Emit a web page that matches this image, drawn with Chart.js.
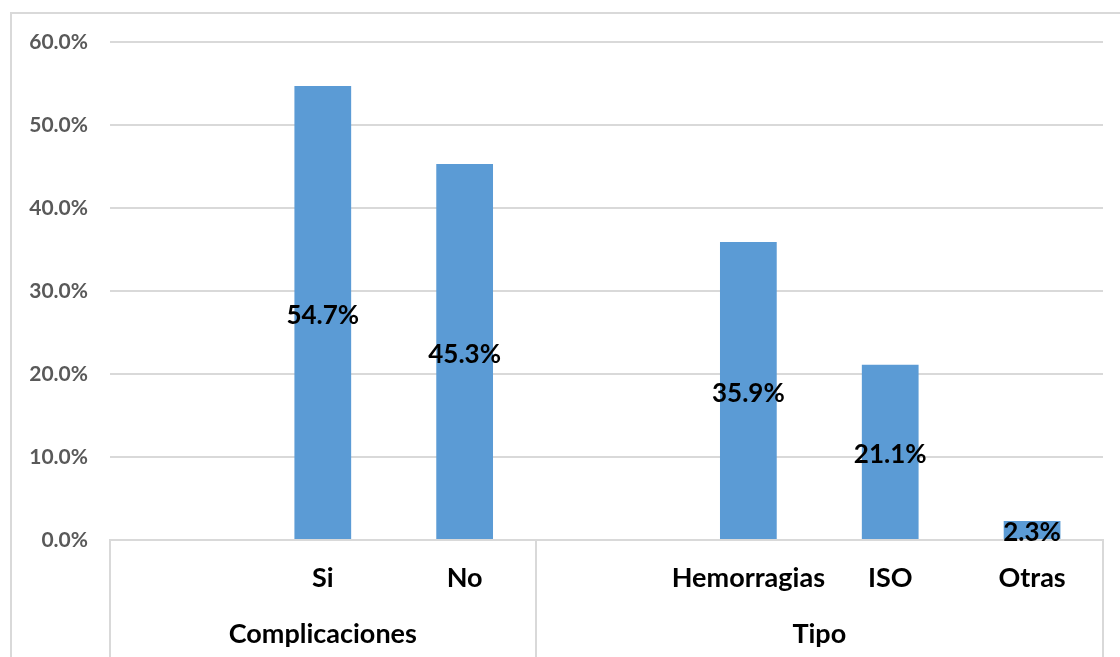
<!DOCTYPE html>
<html>
<head>
<meta charset="utf-8">
<script src="https://cdn.jsdelivr.net/npm/chart.js@4"></script>
<style>
  html, body { margin: 0; padding: 0; background: #fff; }
  #wrap { width: 1120px; height: 657px; }
</style>
</head>
<body>
<div id="wrap"><canvas id="chart" width="1120" height="657"></canvas></div>
<script>
// categories: blank slots stand for the gap in front of each group
const categories = ['', 'Si', 'No', '', 'Hemorragias', 'ISO', 'Otras'];
const values = [null, 54.7, 45.3, null, 35.9, 21.1, 2.3];
// outer category level: name, first index, last index
const groups = [
  { name: 'Complicaciones', from: 0, to: 2 },
  { name: 'Tipo', from: 3, to: 6 }
];
const yTicks = [0, 10, 20, 30, 40, 50, 60];

const FONT = 'Lato, "Open Sans", sans-serif';
const LINE = '#d9d9d9';

// chart border, group labels and separators under the axis
const groupAxis = {
  id: 'groupAxis',
  beforeDraw(chart) {
    const ctx = chart.ctx;
    ctx.save();
    ctx.strokeStyle = LINE;
    ctx.lineWidth = 2;
    ctx.beginPath();
    ctx.moveTo(11, chart.height);
    ctx.lineTo(11, 13);
    ctx.lineTo(chart.width, 13);
    ctx.stroke();
    ctx.restore();
  },
  afterDraw(chart) {
    const ctx = chart.ctx;
    const x = chart.scales.x;
    const area = chart.chartArea;
    const slot = (area.right - area.left) / categories.length;
    ctx.save();
    ctx.strokeStyle = LINE;
    ctx.lineWidth = 2;
    const edges = [area.left];
    groups.forEach(g => edges.push(x.getPixelForValue(g.to) + slot / 2));
    edges.forEach(px => {
      ctx.beginPath();
      ctx.moveTo(Math.round(px), area.bottom);
      ctx.lineTo(Math.round(px), chart.height);
      ctx.stroke();
    });
    ctx.fillStyle = '#000';
    ctx.font = 'bold 27px ' + FONT;
    ctx.textAlign = 'center';
    ctx.textBaseline = 'middle';
    groups.forEach(g => {
      const cx = (x.getPixelForValue(g.from) + x.getPixelForValue(g.to)) / 2;
      ctx.fillText(g.name, cx, 634);
    });
    ctx.restore();
  }
};

// value labels centred in each bar
const barLabels = {
  id: 'barLabels',
  afterDatasetsDraw(chart) {
    const ctx = chart.ctx;
    const meta = chart.getDatasetMeta(0);
    ctx.save();
    ctx.fillStyle = '#000';
    ctx.font = 'bold 26px ' + FONT;
    ctx.textAlign = 'center';
    ctx.textBaseline = 'middle';
    meta.data.forEach((bar, i) => {
      const v = values[i];
      if (v == null) return;
      const cy = (bar.y + bar.base) / 2 + 3;
      ctx.fillText(v.toFixed(1) + '%', bar.x, cy);
    });
    ctx.restore();
  }
};

new Chart(document.getElementById('chart'), {
  type: 'bar',
  data: {
    labels: categories,
    datasets: [{
      data: values,
      backgroundColor: '#5b9bd5',
      borderWidth: 0,
      barPercentage: 0.4,
      categoryPercentage: 1
    }]
  },
  options: {
    responsive: false,
    animation: false,
    layout: { padding: { top: 42, right: 17, left: 20, bottom: 0 } },
    plugins: {
      legend: { display: false },
      tooltip: { enabled: false }
    },
    scales: {
      x: {
        grid: { display: false, drawTicks: false },
        border: { display: true, color: LINE, width: 2 },
        ticks: {
          autoSkip: false,
          maxRotation: 0,
          padding: 22,
          color: '#000',
          font: { family: FONT, size: 27, weight: 'bold' }
        },
        afterFit(scale) { scale.height = 117; }
      },
      y: {
        min: 0,
        max: 60,
        grid: { color: LINE, lineWidth: 2, drawTicks: false },
        border: { display: false },
        afterBuildTicks(scale) { scale.ticks = yTicks.map(v => ({ value: v })); },
        ticks: {
          padding: 22,
          color: '#595959',
          font: { family: FONT, size: 21, weight: 'bold' },
          callback: v => v.toFixed(1) + '%'
        },
        afterFit(scale) { scale.width = 90; }
      }
    }
  },
  plugins: [groupAxis, barLabels]
});
</script>
</body>
</html>
